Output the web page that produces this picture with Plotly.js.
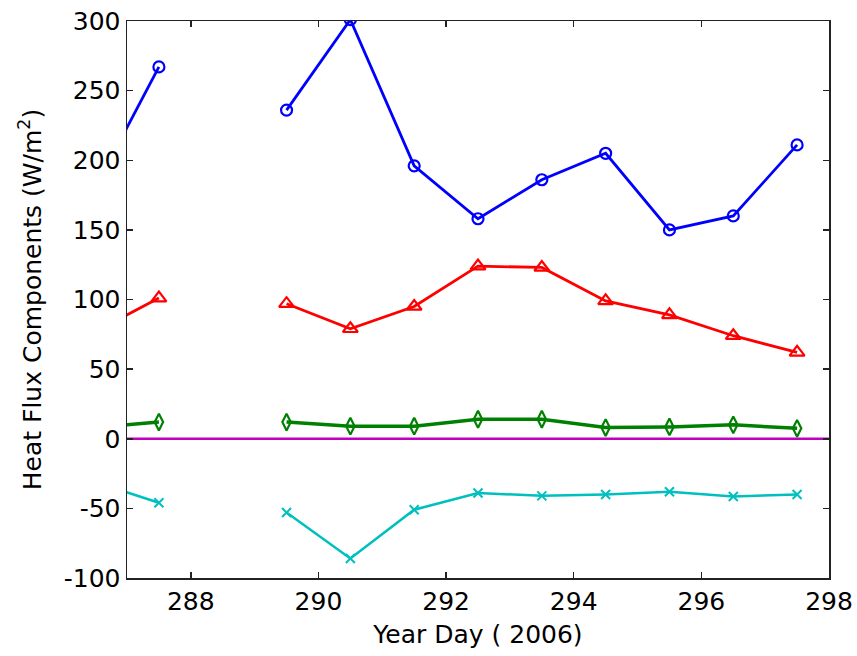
<!DOCTYPE html>
<html>
<head>
<meta charset="utf-8">
<script src="https://cdn.plot.ly/plotly-3.0.1.min.js"></script>
<style>html,body{margin:0;padding:0;background:#fff;}#chart{width:857px;height:656px;}</style>
</head>
<body>
<div id="chart"></div>
<script>
// Year days (2006); null marks a missing day
const yearDay = [286.5, 287.5, 288.5, 289.5, 290.5, 291.5, 292.5, 293.5, 294.5, 295.5, 296.5, 297.5];
const blueSeries  = [180, 267, null, 236, 301, 196, 158, 186, 205, 150, 160, 211];
const redSeries   = [77, 101, null, 97, 79, 95, 124, 123, 99, 89, 74, 62];
const greenSeries = [8, 12, null, 12, 9, 9, 14, 14, 8, 8.5, 10, 7.5];
const cyanSeries  = [-31, -46, null, -53, -86, -51, -39, -41, -40, -38, -41.5, -40];
const zeroLineX = [287, 298];
const zeroLineY = [0, 0];
const xTicks = [288, 290, 292, 294, 296, 298];
const yTicks = [-100, -50, 0, 50, 100, 150, 200, 250, 300];

const FONT = 'DejaVu Sans, sans-serif';

const traces = [
  {x: zeroLineX, y: zeroLineY, mode: 'lines', line: {color: '#c000c0', width: 2.5}},
  {x: yearDay, y: blueSeries, mode: 'lines+markers', line: {color: '#0000ff', width: 2.8},
   marker: {symbol: 'circle-open', size: 11, color: '#0000ff', line: {width: 2.2}}, connectgaps: false},
  {x: yearDay, y: redSeries, mode: 'lines+markers', line: {color: '#ff0000', width: 2.8},
   marker: {symbol: 'triangle-up-open', size: 13, color: '#ff0000', line: {width: 2.2}}, connectgaps: false},
  {x: yearDay, y: greenSeries, mode: 'lines+markers', line: {color: '#008000', width: 3.5},
   marker: {symbol: 'diamond-tall-open', size: 12, color: '#008000', line: {width: 2.2}}, connectgaps: false},
  {x: yearDay, y: cyanSeries, mode: 'lines+markers', line: {color: '#00bfbf', width: 2.5},
   marker: {symbol: 'x-thin-open', size: 9, color: '#00bfbf', line: {width: 2, color: '#00bfbf'}}, connectgaps: false}
];

const axisCommon = {
  showgrid: false, zeroline: false, showline: true, mirror: 'ticks',
  linecolor: '#222', linewidth: 1.5, ticks: 'inside', ticklen: 6, tickwidth: 1.5, tickcolor: '#222',
  tickfont: {family: FONT, size: 25, color: '#000'}
};

const layout = {
  width: 857, height: 656,
  margin: {l: 127, r: 28, t: 21, b: 78},
  paper_bgcolor: '#fff', plot_bgcolor: '#fff',
  showlegend: false,
  xaxis: Object.assign({}, axisCommon, {
    range: [287, 298], tickvals: xTicks, ticktext: xTicks.map(String),
    title: {text: 'Year Day ( 2006)', font: {family: FONT, size: 25, color: '#000'}, standoff: 11}
  }),
  yaxis: Object.assign({}, axisCommon, {
    range: [-100, 300], tickvals: yTicks, ticktext: yTicks.map(String),
    title: {text: 'Heat Flux Components (W/m<sup>2</sup>)', font: {family: FONT, size: 25, color: '#000'}, standoff: 15}
  })
};

Plotly.newPlot('chart', traces, layout, {displayModeBar: false, staticPlot: true});
</script>
</body>
</html>
